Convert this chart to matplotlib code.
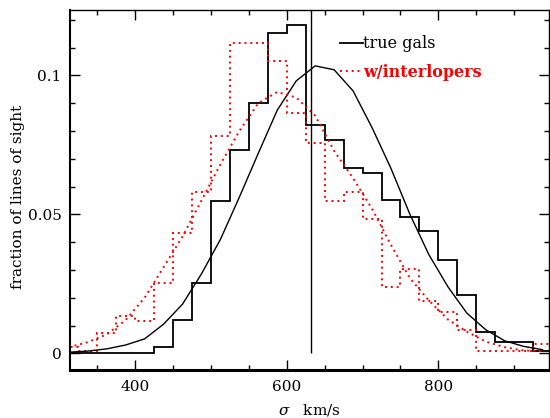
import numpy as np
import matplotlib
matplotlib.use("Agg")
import matplotlib.pyplot as plt
from matplotlib.ticker import MultipleLocator

plt.rcParams['font.family'] = ['DejaVu Serif']
plt.rcParams['mathtext.fontset'] = 'dejavuserif'

# bin edges of the sigma histograms (km/s)
bin_edges = np.arange(300, 951, 25)
bin_centers = bin_edges[:-1] + 12.5

# histogram of true galaxies
true_hist = [0, 0, 0, 0, 0, 0.0024, 0.012, 0.0253, 0.0549, 0.0733,
             0.0902, 0.1152, 0.1181, 0.0822, 0.0767, 0.0666, 0.0649, 0.0553,
             0.049, 0.0439, 0.0334, 0.021, 0.0078, 0.0042, 0.0042, 0.001]

# histogram with interlopers
inter_hist = [0.0024, 0.001, 0.0074, 0.0134, 0.0116, 0.0253, 0.0433, 0.0579,
              0.0781, 0.1116, 0.1116, 0.1052, 0.0864, 0.0758, 0.0547, 0.0579,
              0.0484, 0.024, 0.0304, 0.019, 0.0147, 0.0084, 0.0008, 0.0008,
              0.0008, 0.0032]

# smooth fits sampled at bin centres
true_fit = [0.0004, 0.0008, 0.0016, 0.003, 0.0052, 0.0105, 0.0177, 0.0286,
            0.041, 0.0562, 0.072, 0.0875, 0.098, 0.1034, 0.102, 0.0944,
            0.0812, 0.0665, 0.050, 0.0355, 0.024, 0.0145, 0.0085, 0.0045,
            0.0025, 0.0013]
inter_fit = [0.0022, 0.004, 0.0068, 0.012, 0.020, 0.031, 0.042, 0.055,
             0.068, 0.080, 0.090, 0.094, 0.092, 0.0855, 0.0728, 0.063,
             0.052, 0.039, 0.027, 0.019, 0.0122, 0.0078, 0.0042, 0.0022,
             0.001, 0.0008]

mean_sigma = 632

fig = plt.figure(figsize=(5.5, 4.18), dpi=100)
ax = fig.add_axes([70 / 550, 1 - 370 / 418, 479 / 550, 360 / 418])

ax.stairs(true_hist, bin_edges, baseline=None, color='black', lw=1.3,
          label='true gals')
ax.stairs(inter_hist, bin_edges, baseline=None, color='red', lw=1.4,
          linestyle=(0, (1, 2)), label='w/interlopers')
ax.plot(bin_centers, true_fit, color='black', lw=1.0)
ax.plot(bin_centers, inter_fit, color='red', lw=1.4, linestyle=(0, (1, 2)))
ax.vlines(mean_sigma, 0, 0.1235, color='black', lw=1.0)

ax.set_xlim(314, 946)
ax.set_ylim(-0.006, 0.1235)
ax.xaxis.set_major_locator(MultipleLocator(200))
ax.xaxis.set_minor_locator(MultipleLocator(50))
ax.yaxis.set_major_locator(MultipleLocator(0.05))
ax.yaxis.set_minor_locator(MultipleLocator(0.01))
ax.set_yticks([0, 0.05, 0.1])
ax.set_yticklabels(['0', '0.05', '0.1'])
ax.tick_params(which='both', direction='in', top=True, right=True,
               labelsize=11, width=1)
ax.tick_params(which='major', length=7.2)
ax.tick_params(which='minor', length=3.6)
ax.tick_params(axis='x', pad=7)
ax.tick_params(axis='y', pad=6)

ax.spines['bottom'].set_linewidth(2.2)
ax.spines['left'].set_linewidth(1.5)
ax.spines['top'].set_linewidth(1.0)
ax.spines['right'].set_linewidth(1.0)

ax.set_xlabel(r'$\sigma$   km/s', fontsize=11)
ax.set_ylabel('fraction of lines of sight', fontsize=11)
ax.xaxis.set_label_coords(0.5, -0.09)
ax.yaxis.set_label_coords(-0.093, 0.48)

leg = ax.legend(loc='upper left', bbox_to_anchor=(0.5637, 0.93),
                frameon=False, fontsize=11.5, handlelength=1.42,
                handletextpad=0.05, labelspacing=0.73, borderpad=0,
                borderaxespad=0)
leg.get_texts()[1].set_color('red')
leg.get_texts()[1].set_fontweight('bold')

fig.savefig('out.png', dpi=100)
